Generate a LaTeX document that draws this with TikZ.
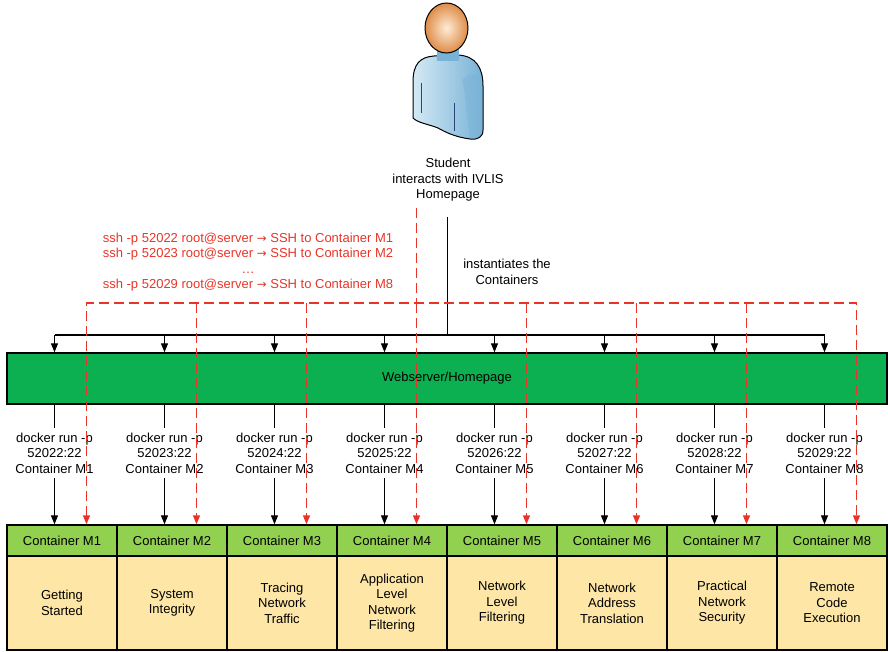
\documentclass[tikz,border=0pt]{standalone}
\usepackage{fontspec}
\setmainfont{Liberation Sans}
\newfontfamily\arrowfont[Scale=0.9]{DejaVu Sans}
\newcommand{\sshto}{{\arrowfont →}}
\usetikzlibrary{arrows.meta,positioning,shapes}
\definecolor{webgreen}{RGB}{13,176,80}
\definecolor{headgreen}{RGB}{146,208,80}
\definecolor{topictan}{RGB}{253,230,166}
\definecolor{sshred}{RGB}{232,52,40}
\definecolor{skinlight}{RGB}{255,236,214}
\definecolor{skin}{RGB}{222,140,72}
\definecolor{shirt}{RGB}{176,216,236}
\definecolor{shirtdark}{RGB}{120,178,214}
\definecolor{shirtline}{RGB}{40,70,120}

\begin{document}
\begin{tikzpicture}[x=1pt, y=-1pt, font=\fontsize{13}{15.5}\selectfont,
	blackarrow/.style={line width=1.2pt, -{Triangle[length=9pt,width=7pt]}},
	sshline/.style={sshred, line width=1.4pt, dash pattern=on 10pt off 5pt},
	sshtip/.style={-{Triangle[length=9pt,width=7pt]}}]
		\useasboundingbox (0,0) rectangle (888,652);

		\fill[shirt, draw=black, line width=1pt, left color=shirt!55!white, right color=shirtdark]
			(413,118) -- (413,82) .. controls (413,64) and (420,57) .. (434,56)
			-- (458,55) .. controls (476,56) and (483,68) .. (483,86)
			-- (483,130) .. controls (483,137) and (478,140) .. (470,139)
			.. controls (455,137) and (445,132) .. (438,128)
			.. controls (428,124) and (418,123) .. (413,118) -- cycle;
		\fill[shirtdark, opacity=0.45]
			(462,80) .. controls (470,70) and (481,74) .. (482,86)
			-- (482,130) .. controls (482,136) and (477,139) .. (470,138)
			.. controls (467,120) and (466,95) .. (462,80) -- cycle;
		\draw[shirtline, line width=0.8pt] (421,83) -- (421,113);
		\draw[shirtline, line width=0.8pt] (454,103) -- (454,131);
		\fill[shirtdark] (437,48) rectangle (459,61);
		\shade[shading=radial, inner color=skinlight, outer color=skin, draw=black, line width=1pt]
			(446.5,28) ellipse [x radius=21.5, y radius=25];

		\node[align=center] (stu) at (448,180) {Student\\interacts with IVLIS\\Homepage};
		\node[align=center, text=sshred] (sshcmd) at (248,262)
			{ssh -p 52022 root@server \sshto{} SSH to Container M1\\
			 ssh -p 52023 root@server \sshto{} SSH to Container M2\\
			 …\\
			 ssh -p 52029 root@server \sshto{} SSH to Container M8};
		\node[align=center] (inst) at (507,272) {instantiates the\\Containers};

		\node[draw, line width=1.4pt, fill=webgreen, minimum width=880pt, minimum height=51pt] (web) at (447,378.5) {Webserver/Homepage};

		\begin{scope}[every node/.style={align=center, minimum height=50pt, inner sep=0pt}]
			\node (d1) at (54.5,453) {docker run -p\\52022:22\\Container M1};
			\node (d2) at (164.5,453) {docker run -p\\52023:22\\Container M2};
			\node (d3) at (274.5,453) {docker run -p\\52024:22\\Container M3};
			\node (d4) at (384.5,453) {docker run -p\\52025:22\\Container M4};
			\node (d5) at (494.5,453) {docker run -p\\52026:22\\Container M5};
			\node (d6) at (604.5,453) {docker run -p\\52027:22\\Container M6};
			\node (d7) at (714.5,453) {docker run -p\\52028:22\\Container M7};
			\node (d8) at (824.5,453) {docker run -p\\52029:22\\Container M8};
		\end{scope}

		\begin{scope}[every node/.style={draw, line width=1.4pt, fill=headgreen, minimum width=110pt, minimum height=31pt}]
			\node (h1) at (62,540.5) {Container M1};
			\node (h2) at (172,540.5) {Container M2};
			\node (h3) at (282,540.5) {Container M3};
			\node (h4) at (392,540.5) {Container M4};
			\node (h5) at (502,540.5) {Container M5};
			\node (h6) at (612,540.5) {Container M6};
			\node (h7) at (722,540.5) {Container M7};
			\node (h8) at (832,540.5) {Container M8};
		\end{scope}

		\begin{scope}[every node/.style={draw, line width=1.4pt, fill=topictan, align=center, minimum width=110pt, minimum height=94pt}]
			\node (b1) at (62,603) {Getting\\Started};
			\node (b2) at (172,603) {System\\Integrity};
			\node (b3) at (282,603) {Tracing\\Network\\Traffic};
			\node (b4) at (392,603) {Application\\Level\\Network\\Filtering};
			\node (b5) at (502,603) {Network\\Level\\Filtering};
			\node (b6) at (612,603) {Network\\Address\\Translation};
			\node (b7) at (722,603) {Practical\\Network\\Security};
			\node (b8) at (832,603) {Remote\\Code\\Execution};
		\end{scope}

		\coordinate (insttop) at (447.5,217);
		\coordinate (bus) at (447.5,335);
		\coordinate (sshtop) at (416.5,208);
		\coordinate (sshbus) at (416.5,303);
		\coordinate (r1) at (86.5,303);
		\coordinate (r2) at (196.5,303);
		\coordinate (r3) at (306.5,303);
		\coordinate (r4) at (416.5,303);
		\coordinate (r5) at (526.5,303);
		\coordinate (r6) at (636.5,303);
		\coordinate (r7) at (746.5,303);
		\coordinate (r8) at (856.5,303);

		\draw[line width=1.2pt] (insttop) -- (bus);
		\draw[line width=1.2pt] (d1 |- bus) -- (d8 |- bus);
		\path[blackarrow] (d1 |- bus) edge (web.north -| d1)
			(d2 |- bus) edge (web.north -| d2)
			(d3 |- bus) edge (web.north -| d3)
			(d4 |- bus) edge (web.north -| d4)
			(d5 |- bus) edge (web.north -| d5)
			(d6 |- bus) edge (web.north -| d6)
			(d7 |- bus) edge (web.north -| d7)
			(d8 |- bus) edge (web.north -| d8);
		\path[line width=1.2pt] (web.south -| d1) edge (d1.north)
			(web.south -| d2) edge (d2.north)
			(web.south -| d3) edge (d3.north)
			(web.south -| d4) edge (d4.north)
			(web.south -| d5) edge (d5.north)
			(web.south -| d6) edge (d6.north)
			(web.south -| d7) edge (d7.north)
			(web.south -| d8) edge (d8.north);
		\path[blackarrow] (d1.south) edge (h1.north -| d1)
			(d2.south) edge (h2.north -| d2)
			(d3.south) edge (h3.north -| d3)
			(d4.south) edge (h4.north -| d4)
			(d5.south) edge (h5.north -| d5)
			(d6.south) edge (h6.north -| d6)
			(d7.south) edge (h7.north -| d7)
			(d8.south) edge (h8.north -| d8);

		\draw[sshline] (sshtop) -- (sshbus);
		\draw[sshline, {Triangle[length=9pt,width=7pt]}-{Triangle[length=9pt,width=7pt]}]
			(h1.north -| r1) -- (r1) -- (r8) -- (h8.north -| r8);
		\path[sshline, sshtip] (r2) edge (h2.north -| r2)
			(r3) edge (h3.north -| r3)
			(r4) edge (h4.north -| r4)
			(r5) edge (h5.north -| r5)
			(r6) edge (h6.north -| r6)
			(r7) edge (h7.north -| r7);
	\end{tikzpicture}
\end{document}
